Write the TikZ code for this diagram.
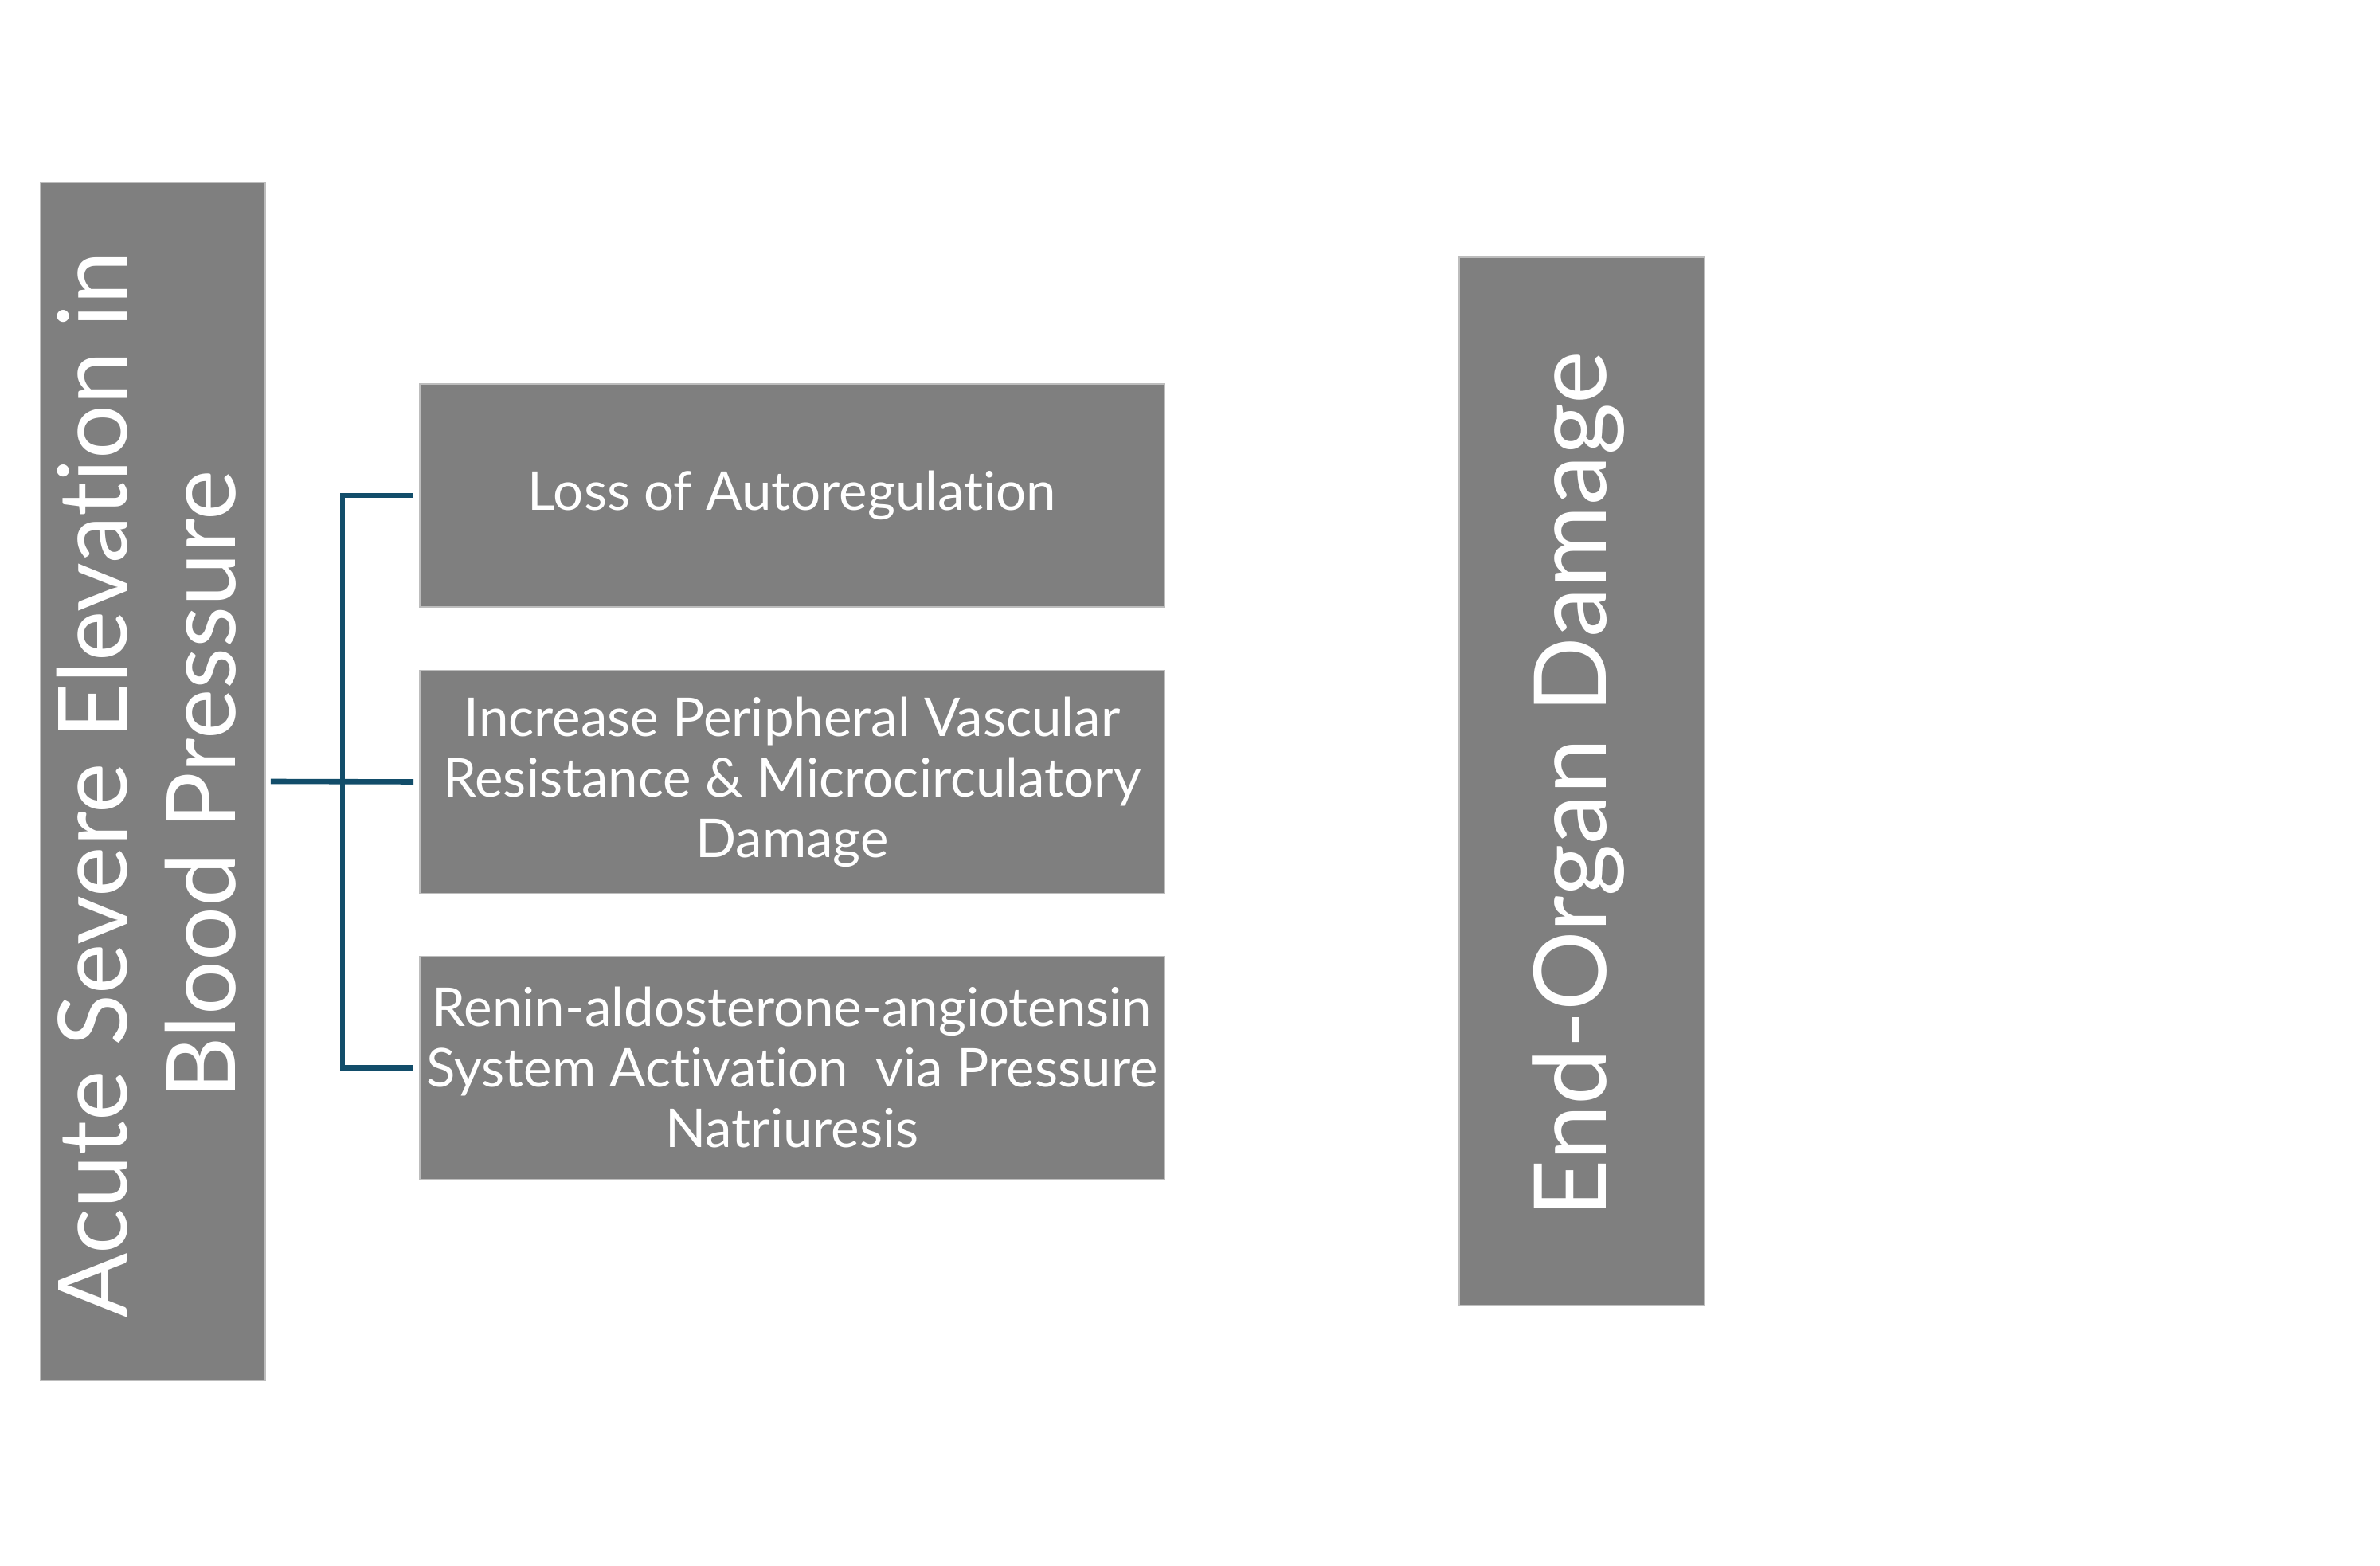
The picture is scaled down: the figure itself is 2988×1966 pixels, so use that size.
\documentclass[tikz,border=0pt]{standalone}
\usepackage{fontspec}
\setmainfont{Lato}[Ligatures=NoCommon]
\definecolor{boxgray}{HTML}{7F7F7F}
\definecolor{boxedge}{HTML}{BDBDBD}
\definecolor{conncol}{HTML}{124D6A}
\tikzset{
  gbox/.style={draw=boxedge, line width=0.4pt, fill=boxgray, inner sep=0pt},
  smallbox/.style={gbox, minimum width=233.75pt, minimum height=70pt,
    text=white, align=center, font=\fontsize{16.8}{19}\selectfont},
  bigtext/.style={rotate=90, text=white, align=center, inner sep=0pt,
    font=\fontsize{30}{34}\selectfont},
  conn/.style={draw=conncol, line width=1.65pt, line join=miter},
}
\begin{document}
\begin{tikzpicture}[x=0.25pt, y=-0.25pt]
\useasboundingbox (0,0) rectangle (2988,1966);
% main boxes
\node[gbox, minimum width=70.5pt, minimum height=376pt] (src) at (192,981) {};
\node[bigtext] (srctext) at (184,985) {Acute Severe Elevation in\\Blood Pressure};
\node[gbox, minimum width=77pt, minimum height=329pt] (dst) at (1986,981) {};
\node[bigtext, font=\fontsize{31.5}{36}\selectfont] (dsttext) at (1982,985) {End-Organ Damage};
% mechanism boxes
\node[smallbox] (b1) at (994.5,622) {Loss of Autoregulation};
\node[smallbox] (b2) at (994.5,981.5) {Increase Peripheral Vascular\\Resistance \& Microcirculatory\\Damage};
\node[smallbox] (b3) at (994.5,1340.5) {Renin-aldosterone-angiotensin\\System Activation\ \ via Pressure\\Natriuresis};
% connectors
\coordinate (bus) at (430,981);
\draw[conn] ([xshift=1.5pt]src.east) -- ([xshift=-1.75pt]b2.west);
\draw[conn] ([xshift=-1.75pt]b1.west) -| (bus) |- ([xshift=-1.75pt]b3.west);
\end{tikzpicture}
\end{document}
